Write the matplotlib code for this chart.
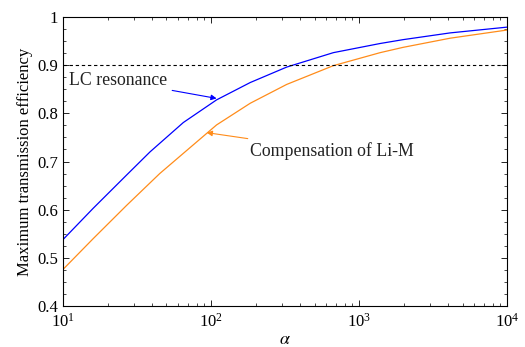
import numpy as np
import matplotlib
matplotlib.use('Agg')
import matplotlib.pyplot as plt
from matplotlib.ticker import MultipleLocator, LogLocator

plt.rcParams['font.family'] = ['Liberation Serif', 'DejaVu Serif']
plt.rcParams['mathtext.fontset'] = 'stix'

# values
alpha_lc = [10, 16, 26.9, 38.7, 65, 109, 184, 324, 670, 1387, 1982, 4120, 10000]
eff_lc = [0.538, 0.603, 0.672, 0.720, 0.781, 0.828, 0.864, 0.896, 0.926, 0.945, 0.953, 0.967, 0.979]

alpha_comp = [10, 16, 26.9, 45, 65, 109, 184, 324, 670, 1387, 1982, 4120, 10000]
eff_comp = [0.476, 0.540, 0.609, 0.675, 0.717, 0.776, 0.821, 0.860, 0.899, 0.926, 0.937, 0.956, 0.973]

threshold = 0.9

fig = plt.figure(figsize=(5.25, 3.47), dpi=100)
ax = fig.add_axes([0.12, 0.118, 0.846, 0.833])

ax.semilogx(alpha_lc, eff_lc, color='#0000ff', lw=0.9)
ax.semilogx(alpha_comp, eff_comp, color='#ff8c1a', lw=0.9)
ax.axhline(threshold, color='k', ls=(0, (3, 2.5)), lw=0.8)

ax.set_xlim(10, 1e4)
ax.set_ylim(0.4, 1)
ax.set_yticks([0.4, 0.5, 0.6, 0.7, 0.8, 0.9, 1])
ax.set_yticklabels(['0.4', '0.5', '0.6', '0.7', '0.8', '0.9', '1'])
ax.yaxis.set_minor_locator(MultipleLocator(0.025))
ax.xaxis.set_minor_locator(LogLocator(base=10, subs=np.arange(2, 10)))

ax.tick_params(which='both', direction='in', top=True, right=True, labelsize=12)
ax.tick_params(axis='x', pad=5)
ax.tick_params(which='major', length=4, width=0.6)
ax.tick_params(which='minor', length=2, width=0.5)
for s in ax.spines.values():
    s.set_linewidth(0.8)

ax.set_xlabel(r'$\alpha$', fontsize=13, labelpad=0)
ax.set_ylabel('Maximum transmission efficiency', fontsize=12, labelpad=3)

ax.annotate('LC resonance', xy=(109, 0.831), xytext=(10.9, 0.868),
            fontsize=12.8, color='#222222', va='center', ha='left',
            arrowprops=dict(arrowstyle='-|>', color='#0000ff', lw=0.8,
                            mutation_scale=8, shrinkA=2, shrinkB=0))
ax.annotate('Compensation of Li-M', xy=(93.5, 0.760), xytext=(184, 0.722),
            fontsize=12.8, color='#222222', va='center', ha='left',
            arrowprops=dict(arrowstyle='-|>', color='#ff8c1a', lw=0.8,
                            mutation_scale=8, shrinkA=3, shrinkB=0))

fig.savefig('out.png', dpi=100)
